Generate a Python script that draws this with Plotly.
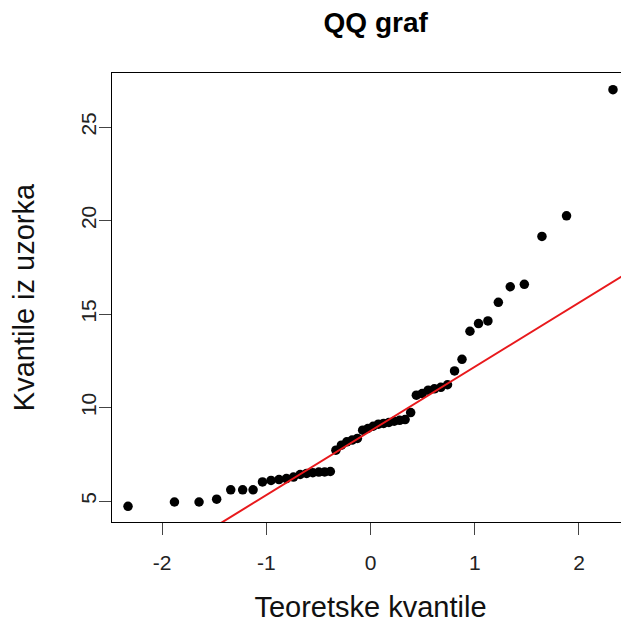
import numpy as np
import plotly.graph_objects as go

# theoretical normal quantiles, qnorm(ppoints(50))
teor_kvantile = [
    -2.3263, -1.8808, -1.6449, -1.4758, -1.3408, -1.2265, -1.1264, -1.0364,
    -0.9542, -0.8779, -0.8064, -0.7388, -0.6745, -0.6128, -0.5534, -0.4959,
    -0.4399, -0.3853, -0.3319, -0.2793, -0.2275, -0.1764, -0.1257, -0.0753,
    -0.0251, 0.0251, 0.0753, 0.1257, 0.1764, 0.2275, 0.2793, 0.3319,
    0.3853, 0.4399, 0.4959, 0.5534, 0.6128, 0.6745, 0.7388, 0.8064,
    0.8779, 0.9542, 1.0364, 1.1264, 1.2265, 1.3408, 1.4758, 1.6449,
    1.8808, 2.3263,
]

# sorted sample values
uzorak = [
    4.72, 4.95, 4.95, 5.10, 5.60, 5.60, 5.60, 6.02, 6.10, 6.15,
    6.20, 6.28, 6.42, 6.48, 6.52, 6.55, 6.56, 6.58, 7.72, 7.99,
    8.17, 8.26, 8.35, 8.79, 8.88, 9.00, 9.11, 9.15, 9.20, 9.27,
    9.32, 9.36, 9.73, 10.66, 10.75, 10.93, 11.00, 11.08, 11.22, 11.96,
    12.58, 14.08, 14.49, 14.63, 15.63, 16.46, 16.59, 19.15, 20.25, 27.00,
]

x_tick_vals = [-2, -1, 0, 1, 2]
y_tick_vals = [5, 10, 15, 20, 25]

# qqline: line through the 1st and 3rd quartiles
q_uz = np.percentile(uzorak, [25, 75])
q_teor = np.array([-0.6745, 0.6745])
slope = (q_uz[1] - q_uz[0]) / (q_teor[1] - q_teor[0])
intercept = q_uz[0] - slope * q_teor[0]

x_range = [-2.48, 2.48]
y_range = [3.88, 27.89]
line_x = np.array(x_range)
line_y = intercept + slope * line_x

font = "Liberation Sans, Arial, sans-serif"

fig = go.Figure()
fig.add_trace(go.Scatter(
    x=teor_kvantile, y=uzorak, mode="markers",
    marker=dict(color="black", size=9.5),
    showlegend=False,
))
fig.add_trace(go.Scatter(
    x=line_x, y=line_y, mode="lines",
    line=dict(color="#e8191c", width=2),
    showlegend=False,
))

axis_common = dict(
    showgrid=False, zeroline=False,
    showline=True, linecolor="black", linewidth=1, mirror=True,
    ticks="outside", ticklen=12, tickwidth=1, tickcolor="#444",
    tickfont=dict(family=font, size=21, color="#222"),
)

# the page body has an 8px margin, so the figure is sized to sit inside it
fig.update_layout(
    width=621, height=616,
    paper_bgcolor="white", plot_bgcolor="white",
    margin=dict(l=104, r=0, t=65, b=102),
    title=dict(
        text="<b>QQ graf</b>", font=dict(family=font, size=28, color="black"),
        x=0.51, xref="paper", xanchor="center",
        y=0.977, yref="container", yanchor="middle",
    ),
    xaxis=dict(
        range=x_range, tickvals=x_tick_vals, ticktext=["-2", "-1", "0", "1", "2"],
        title=dict(text="Teoretske kvantile", font=dict(family=font, size=29, color="#111"), standoff=23),
        ticklabelstandoff=10,
        **axis_common,
    ),
    yaxis=dict(
        range=y_range, tickvals=y_tick_vals, tickangle=-90,
        title=dict(text="Kvantile iz uzorka", font=dict(family=font, size=29, color="#111"), standoff=34),
        ticklabelstandoff=-5,
        **axis_common,
    ),
)

fig.write_html("out.html")
